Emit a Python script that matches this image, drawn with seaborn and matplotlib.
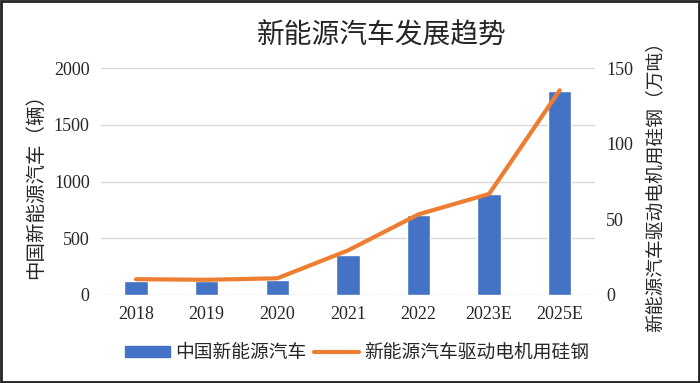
import numpy as np
import pandas as pd
import matplotlib
matplotlib.use("Agg")
import matplotlib.pyplot as plt
import seaborn as sns
from matplotlib.patches import Rectangle, Patch
from matplotlib.lines import Line2D

years = ["2018", "2019", "2020", "2021", "2022", "2023E", "2025E"]
nev_sales = [124, 124, 133, 348, 705, 894, 1795]
steel_use = [10.4, 10.0, 11.0, 29.4, 53.3, 66.8, 135.4]

bar_label = "中国新能源汽车"
line_label = "新能源汽车驱动电机用硅钢"
bar_color = "#4472C4"
line_color = "#ED7D31"

sns.set_theme(style="white")
plt.rcParams["font.family"] = ["Liberation Serif", "Noto Sans CJK SC"]

df = pd.DataFrame({"year": years, "sales": nev_sales, "steel": steel_use})

fig = plt.figure(figsize=(7, 3.83), dpi=100)
ax = fig.add_axes([0.144, 0.230, 0.706, 0.592])

sns.barplot(data=df, x="year", y="sales", color=bar_color, width=0.33,
            saturation=1, ax=ax)
ax.set_ylim(0, 2000)
ax.set_yticks([0, 500, 1000, 1500, 2000])
ax.set_xlim(-0.5, len(years) - 0.5)
ax.grid(axis="y", color="#d9d9d9", linewidth=1)
ax.set_axisbelow(True)
for s in ax.spines.values():
    s.set_visible(False)
ax.tick_params(axis="both", labelsize=13, length=0, pad=8)
ax.set_xlabel("")
ax.set_ylabel("中国新能源汽车（辆）", fontsize=14, labelpad=6)

ax2 = ax.twinx()
sns.lineplot(x=np.arange(len(years)), y=df["steel"], color=line_color,
             linewidth=3, ax=ax2)
ax2.set_ylim(0, 150)
ax2.set_yticks([0, 50, 100, 150])
for s in ax2.spines.values():
    s.set_visible(False)
ax2.tick_params(axis="y", labelsize=13, length=0, pad=8)
ax2.set_ylabel("新能源汽车驱动电机用硅钢（万吨）", fontsize=13.5, rotation=90,
               labelpad=10)
ax2.yaxis.set_label_position("right")

fig.text(0.546, 0.905, "新能源汽车发展趋势", fontsize=20, ha="center",
         va="center")

handles = [Patch(color=bar_color), Line2D([0], [0], color=line_color, lw=3)]
fig.legend(handles, [bar_label, line_label], loc="center",
           bbox_to_anchor=(0.51, 0.078), ncol=2, frameon=False,
           fontsize=13.5, handlelength=2.4, handleheight=0.5,
           columnspacing=0.4, handletextpad=0.3)

fig.patches.append(Rectangle((0.002, 0.003), 0.996, 0.994,
                             transform=fig.transFigure, fill=False,
                             edgecolor="#222222", linewidth=2))

fig.savefig("out.png", dpi=100)
